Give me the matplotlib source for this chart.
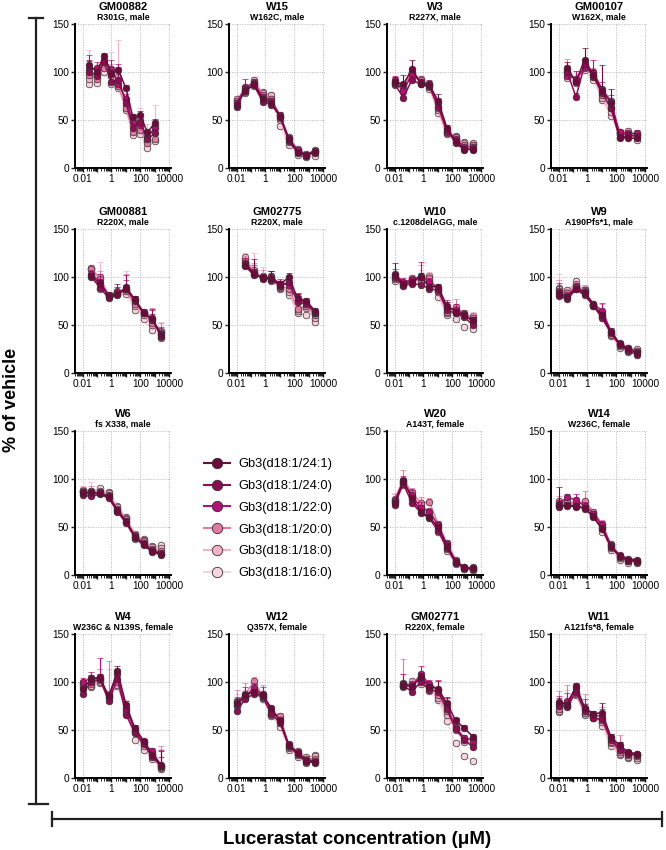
import numpy as np
import matplotlib
matplotlib.use("Agg")
import matplotlib.pyplot as plt
from matplotlib.lines import Line2D
from matplotlib.ticker import LogLocator, FixedLocator, NullFormatter

plt.rcParams["font.family"] = ["Liberation Sans", "DejaVu Sans"]

series = ["Gb3(d18:1/24:1)", "Gb3(d18:1/24:0)", "Gb3(d18:1/22:0)",
          "Gb3(d18:1/20:0)", "Gb3(d18:1/18:0)", "Gb3(d18:1/16:0)"]
colors = ["#6E0A3B", "#8C0E52", "#B5107A", "#E07AA0", "#F2B3C8", "#F7D5E0"]

# concentrations (uM)
conc_10 = [0.01, 0.04, 0.16, 0.64, 2.56, 10.24, 41, 164, 655, 2621]
conc_9 = [0.04, 0.16, 0.64, 2.56, 10.24, 41, 164, 655, 2621]
conc_half = [0.03, 0.1, 0.3, 1, 3, 10, 30, 100, 300, 1000]

# rows: 24:1, 24:0, 22:0, 20:0, 18:0, 16:0
gm00882_y = [[107, 100, 117, 98, 102, 83, 53, 55, 37, 47],
             [100, 96, 110, 90, 92, 68, 42, 48, 30, 36],
             [103, 104, 112, 103, 88, 72, 48, 45, 32, 42],
             [97, 93, 104, 100, 85, 63, 38, 40, 26, 30],
             [93, 98, 108, 96, 95, 66, 45, 50, 28, 44],
             [88, 89, 100, 88, 83, 60, 34, 35, 21, 28]]
gm00882_e = [[4, 3, 3, 4, 3, 3, 3, 4, 3, 4],
             [12, 5, 4, 6, 10, 4, 4, 5, 4, 5],
             [15, 6, 6, 10, 20, 5, 5, 8, 6, 8],
             [8, 4, 5, 8, 14, 4, 4, 10, 10, 12],
             [30, 8, 10, 25, 38, 6, 5, 12, 18, 22],
             [10, 5, 6, 12, 10, 4, 4, 6, 8, 10]]

w15_y = [[66, 80, 87, 72, 68, 53, 30, 17, 14, 17],
         [64, 82, 86, 69, 66, 54, 28, 16, 13, 16],
         [68, 84, 89, 74, 70, 55, 31, 19, 14, 18],
         [70, 79, 90, 76, 72, 52, 32, 18, 13, 19],
         [72, 81, 92, 78, 76, 50, 27, 20, 15, 18],
         [71, 78, 85, 79, 74, 44, 24, 14, 11, 13]]
w15_e = [[2, 3, 3, 2, 2, 2, 2, 2, 1, 2],
         [2, 3, 3, 2, 2, 2, 2, 2, 1, 2],
         [3, 9, 4, 3, 3, 3, 2, 2, 2, 2],
         [3, 4, 3, 3, 3, 3, 2, 2, 2, 2],
         [3, 4, 3, 3, 3, 3, 2, 2, 2, 2],
         [2, 3, 3, 2, 2, 2, 2, 2, 1, 2]]

w3_y = [[90, 87, 103, 88, 86, 70, 42, 28, 20, 19],
        [88, 73, 92, 87, 85, 64, 40, 26, 19, 20],
        [92, 80, 98, 90, 87, 68, 38, 30, 22, 22],
        [86, 84, 100, 92, 84, 62, 36, 32, 24, 24],
        [90, 82, 96, 93, 87, 60, 38, 33, 26, 26],
        [89, 85, 99, 91, 82, 57, 35, 30, 27, 25]]
w3_e = [[5, 10, 10, 4, 6, 7, 3, 2, 2, 2],
        [3, 4, 4, 3, 3, 4, 3, 2, 2, 2],
        [4, 8, 6, 3, 4, 5, 3, 2, 2, 2],
        [3, 5, 4, 3, 3, 4, 4, 2, 2, 3],
        [3, 4, 4, 3, 3, 4, 3, 2, 2, 2],
        [3, 3, 3, 3, 3, 3, 2, 2, 2, 2]]

gm00107_y = [[104, 90, 113, 97, 80, 68, 32, 31, 31],
             [100, 74, 108, 95, 78, 63, 31, 34, 33],
             [96, 93, 105, 100, 82, 70, 37, 36, 36],
             [102, 91, 104, 98, 76, 62, 35, 35, 35],
             [99, 92, 106, 96, 73, 58, 38, 39, 34],
             [94, 89, 102, 92, 71, 54, 36, 33, 29]]
gm00107_e = [[6, 5, 12, 5, 27, 14, 3, 3, 3],
             [4, 4, 4, 4, 5, 5, 3, 3, 3],
             [10, 8, 6, 12, 8, 6, 3, 3, 4],
             [12, 10, 6, 6, 6, 6, 3, 3, 4],
             [8, 6, 5, 5, 5, 5, 3, 3, 3],
             [5, 4, 4, 4, 4, 4, 3, 3, 3]]

gm00881_y = [[101, 93, 80, 82, 88, 77, 63, 57, 40],
             [100, 89, 78, 81, 90, 76, 62, 56, 38],
             [103, 95, 81, 84, 87, 75, 64, 55, 42],
             [108, 98, 80, 83, 85, 72, 62, 52, 44],
             [109, 100, 81, 85, 86, 70, 60, 50, 43],
             [108, 88, 79, 82, 82, 66, 56, 45, 36]]
gm00881_e = [[3, 4, 2, 3, 4, 3, 2, 4, 3],
             [4, 6, 3, 12, 12, 4, 3, 10, 4],
             [4, 8, 3, 6, 10, 4, 3, 12, 6],
             [3, 8, 3, 5, 18, 5, 3, 16, 8],
             [3, 16, 3, 5, 20, 5, 3, 18, 10],
             [3, 5, 2, 3, 5, 3, 2, 5, 4]]

gm02775_y = [[113, 103, 99, 98, 92, 100, 78, 75, 65],
             [111, 102, 100, 97, 91, 95, 74, 72, 63],
             [115, 104, 98, 100, 93, 92, 76, 74, 62],
             [117, 105, 99, 101, 90, 88, 67, 70, 60],
             [121, 107, 100, 99, 89, 84, 65, 68, 57],
             [119, 106, 101, 96, 88, 81, 63, 60, 53]]
gm02775_e = [[4, 16, 3, 8, 4, 4, 5, 3, 3],
             [4, 6, 3, 5, 4, 4, 8, 3, 3],
             [5, 8, 4, 6, 5, 5, 6, 3, 3],
             [5, 10, 8, 5, 6, 6, 5, 4, 3],
             [4, 18, 10, 5, 8, 6, 5, 4, 3],
             [3, 4, 3, 3, 4, 4, 4, 3, 3]]

w10_y = [[102, 93, 95, 100, 90, 90, 70, 64, 60, 55],
         [100, 91, 93, 92, 88, 86, 66, 62, 58, 50],
         [103, 95, 97, 101, 95, 88, 68, 66, 61, 53],
         [99, 92, 98, 96, 99, 85, 64, 69, 62, 57],
         [98, 94, 96, 99, 101, 84, 62, 63, 60, 59],
         [96, 93, 99, 94, 97, 79, 60, 56, 48, 46]]
w10_e = [[13, 3, 3, 4, 3, 3, 4, 3, 3, 3],
         [4, 3, 3, 5, 3, 3, 5, 4, 3, 3],
         [5, 4, 3, 15, 4, 4, 8, 6, 3, 5],
         [4, 4, 3, 17, 5, 4, 10, 8, 4, 6],
         [4, 3, 3, 8, 4, 3, 6, 6, 3, 5],
         [3, 3, 3, 3, 3, 3, 3, 3, 3, 3]]

w9_y = [[82, 79, 88, 83, 71, 60, 43, 30, 25, 21],
        [80, 77, 87, 81, 70, 57, 42, 29, 23, 19],
        [84, 80, 90, 84, 72, 65, 44, 31, 26, 22],
        [85, 83, 91, 85, 71, 62, 40, 30, 24, 23],
        [88, 86, 93, 86, 72, 59, 41, 28, 26, 25],
        [89, 84, 96, 87, 70, 58, 39, 26, 22, 24]]
w9_e = [[4, 3, 3, 3, 2, 3, 2, 2, 2, 2],
        [4, 3, 3, 3, 2, 3, 2, 2, 2, 2],
        [10, 4, 4, 6, 2, 8, 3, 2, 2, 2],
        [12, 4, 4, 7, 2, 10, 3, 2, 2, 2],
        [15, 3, 3, 5, 2, 5, 2, 2, 2, 2],
        [4, 3, 3, 3, 2, 3, 2, 2, 2, 2]]

w6_y = [[85, 86, 85, 82, 68, 56, 40, 32, 25, 22],
        [83, 82, 84, 80, 66, 54, 39, 31, 24, 21],
        [86, 84, 86, 81, 67, 55, 41, 33, 26, 23],
        [88, 87, 85, 83, 69, 58, 42, 35, 27, 25],
        [89, 88, 88, 85, 71, 59, 43, 36, 29, 28],
        [87, 86, 91, 86, 72, 60, 38, 37, 30, 31]]
w6_e = [[3, 3, 2, 2, 2, 2, 2, 2, 2, 2],
        [3, 3, 2, 2, 2, 2, 2, 2, 2, 2],
        [4, 5, 3, 2, 2, 3, 2, 2, 2, 2],
        [4, 6, 3, 3, 3, 3, 4, 2, 2, 2],
        [4, 9, 3, 3, 3, 3, 3, 2, 2, 2],
        [3, 3, 2, 2, 2, 2, 2, 2, 2, 2]]

w20_y = [[75, 98, 80, 66, 60, 50, 30, 14, 7, 7],
         [73, 95, 75, 65, 59, 46, 28, 13, 7, 6],
         [77, 97, 83, 70, 66, 52, 32, 15, 8, 7],
         [79, 99, 86, 75, 76, 53, 33, 16, 8, 8],
         [78, 96, 82, 72, 67, 48, 27, 12, 6, 5],
         [76, 94, 79, 68, 62, 45, 25, 11, 6, 5]]
w20_e = [[3, 3, 3, 3, 2, 3, 2, 2, 1, 1],
         [3, 3, 3, 3, 2, 3, 2, 2, 1, 1],
         [4, 6, 6, 6, 3, 3, 3, 2, 1, 1],
         [5, 10, 5, 6, 4, 3, 3, 2, 1, 1],
         [7, 5, 4, 8, 3, 3, 3, 2, 1, 1],
         [3, 3, 3, 3, 2, 3, 2, 2, 1, 1]]

w14_y = [[73, 72, 71, 70, 60, 48, 29, 20, 16, 15],
         [71, 73, 72, 69, 61, 49, 30, 19, 15, 14],
         [74, 81, 78, 72, 64, 52, 31, 21, 17, 16],
         [77, 76, 74, 77, 66, 53, 32, 20, 16, 15],
         [75, 77, 75, 74, 65, 50, 28, 18, 15, 14],
         [72, 75, 73, 71, 63, 45, 26, 16, 13, 13]]
w14_e = [[19, 3, 3, 3, 2, 3, 2, 2, 2, 2],
         [3, 3, 3, 3, 2, 3, 2, 2, 2, 2],
         [4, 3, 6, 4, 3, 4, 2, 2, 2, 2],
         [5, 4, 7, 10, 3, 4, 2, 2, 2, 2],
         [4, 3, 4, 5, 3, 3, 2, 2, 2, 2],
         [3, 3, 3, 3, 2, 3, 2, 2, 2, 2]]

w4_y = [[93, 103, 104, 85, 111, 76, 52, 39, 24, 14],
        [88, 100, 103, 80, 103, 66, 47, 35, 22, 12],
        [100, 104, 105, 84, 108, 72, 50, 36, 28, 13],
        [95, 98, 102, 86, 100, 70, 48, 37, 25, 11],
        [97, 96, 100, 88, 97, 73, 49, 33, 26, 10],
        [99, 95, 99, 83, 96, 68, 40, 29, 20, 9]]
w4_e = [[3, 4, 4, 4, 6, 4, 3, 2, 2, 14],
        [3, 4, 4, 4, 5, 4, 3, 2, 2, 10],
        [4, 6, 20, 6, 6, 6, 5, 3, 3, 16],
        [4, 8, 12, 36, 8, 10, 6, 4, 4, 22],
        [4, 6, 8, 26, 6, 8, 5, 3, 3, 20],
        [3, 4, 4, 4, 4, 4, 3, 2, 2, 4]]

w12_y = [[78, 86, 90, 86, 73, 59, 34, 26, 18, 17],
         [70, 82, 88, 84, 67, 57, 33, 25, 17, 16],
         [76, 85, 94, 87, 70, 60, 35, 27, 19, 18],
         [80, 87, 101, 85, 68, 65, 32, 24, 20, 20],
         [79, 84, 96, 83, 66, 62, 31, 28, 22, 23],
         [75, 83, 92, 82, 65, 53, 29, 22, 16, 24]]
w12_e = [[4, 4, 3, 4, 2, 3, 2, 2, 2, 2],
         [4, 4, 3, 4, 2, 3, 2, 2, 2, 2],
         [8, 10, 5, 8, 3, 4, 3, 2, 2, 2],
         [12, 12, 4, 12, 3, 3, 3, 2, 2, 2],
         [8, 8, 4, 6, 3, 3, 3, 2, 2, 2],
         [4, 4, 3, 4, 2, 3, 2, 2, 2, 2]]

gm02771_y = [[97, 95, 105, 95, 93, 78, 60, 52, 43],
             [96, 90, 100, 92, 90, 72, 51, 40, 32],
             [98, 96, 108, 98, 92, 75, 53, 42, 40],
             [99, 97, 104, 97, 86, 70, 52, 41, 39],
             [96, 98, 102, 94, 83, 66, 50, 38, 36],
             [95, 101, 98, 91, 81, 59, 36, 23, 18]]
gm02771_e = [[4, 4, 4, 3, 8, 6, 3, 3, 3],
             [3, 3, 3, 3, 4, 4, 3, 3, 3],
             [10, 5, 9, 4, 10, 8, 4, 3, 3],
             [25, 6, 6, 4, 8, 8, 4, 3, 3],
             [12, 4, 5, 3, 6, 6, 3, 3, 3],
             [3, 3, 3, 3, 3, 3, 3, 2, 2]]

w11_y = [[79, 76, 96, 73, 67, 68, 43, 34, 27, 25],
         [75, 74, 90, 70, 62, 61, 40, 29, 25, 24],
         [77, 79, 94, 72, 66, 64, 42, 31, 26, 25],
         [72, 77, 89, 68, 64, 60, 38, 27, 24, 23],
         [70, 80, 88, 66, 63, 58, 36, 25, 22, 21],
         [69, 75, 86, 67, 62, 54, 33, 24, 21, 19]]
w11_e = [[4, 3, 3, 4, 3, 10, 3, 3, 2, 2],
         [4, 3, 3, 4, 3, 4, 3, 3, 2, 2],
         [8, 10, 4, 10, 4, 8, 4, 6, 3, 2],
         [19, 20, 8, 19, 4, 14, 5, 18, 4, 3],
         [10, 12, 5, 12, 4, 8, 4, 10, 3, 2],
         [4, 3, 3, 4, 3, 4, 3, 3, 2, 2]]

titles = ["GM00882", "W15", "W3", "GM00107",
          "GM00881", "GM02775", "W10", "W9",
          "W6", None, "W20", "W14",
          "W4", "W12", "GM02771", "W11"]
subtitles = ["R301G, male", "W162C, male", "R227X, male", "W162X, male",
             "R220X, male", "R220X, male", "c.1208delAGG, male", "A190Pfs*1, male",
             "fs X338, male", None, "A143T, female", "W236C, female",
             "W236C & N139S, female", "Q357X, female", "R220X, female", "A121fs*8, female"]
panel_x = [conc_half, conc_10, conc_10, conc_9,
           conc_9, conc_9, conc_10, conc_10,
           conc_10, None, conc_10, conc_10,
           conc_10, conc_10, conc_9, conc_10]
panel_y = [gm00882_y, w15_y, w3_y, gm00107_y,
           gm00881_y, gm02775_y, w10_y, w9_y,
           w6_y, None, w20_y, w14_y,
           w4_y, w12_y, gm02771_y, w11_y]
panel_e = [gm00882_e, w15_e, w3_e, gm00107_e,
           gm00881_e, gm02775_e, w10_e, w9_e,
           w6_e, None, w20_e, w14_e,
           w4_e, w12_e, gm02771_e, w11_e]

W, H = 666, 850
fig = plt.figure(figsize=(W / 100, H / 100), dpi=100)

row_top = [24, 229, 431, 634]
col_left = [75, 229, 387, 551]
ax_w, ax_h = 96, 144

for i in range(16):
    r, c = divmod(i, 4)
    if titles[i] is None:
        continue
    ax = fig.add_axes([col_left[c] / W, 1 - (row_top[r] + ax_h) / H, ax_w / W, ax_h / H])
    x = panel_x[i]
    for s in range(5, -1, -1):
        y = np.array(panel_y[i][s])
        e = np.array(panel_e[i][s])
        ax.errorbar(x, y, yerr=[np.zeros_like(e), e], color=colors[s], lw=1.1,
                    elinewidth=0.8, capsize=2, capthick=0.8, marker="o", ms=4.8,
                    mfc=colors[s], mec="#3a2a30", mew=0.5, zorder=3 + (5 - s))
    ax.set_xscale("log")
    ax.set_xlim(0.003, 13000)
    ax.set_ylim(0, 150)
    ax.set_yticks([0, 50, 100, 150])
    ax.xaxis.set_major_locator(FixedLocator([1e-2, 1e-1, 1, 10, 100, 1e3, 1e4]))
    ax.set_xticklabels(["0.01", "", "1", "", "100", "", "10000"])
    ax.xaxis.set_minor_locator(LogLocator(base=10, subs=np.arange(2, 10), numticks=20))
    ax.xaxis.set_minor_formatter(NullFormatter())
    ax.tick_params(axis="both", labelsize=7.3, width=1, length=3, pad=1.5, color="#222222")
    ax.tick_params(axis="x", which="minor", length=1.8, width=0.6)
    for side in ["top", "right"]:
        ax.spines[side].set_visible(False)
    for side in ["left", "bottom"]:
        ax.spines[side].set_linewidth(1.4)
    for gx in [1e-2, 1, 100, 1e4]:
        ax.axvline(gx, color="#bbbbbb", lw=0.6, ls=(0, (1.5, 1.5)), zorder=0)
    for gy in [50, 100, 150]:
        ax.axhline(gy, color="#bbbbbb", lw=0.6, ls=(0, (1.5, 1.5)), zorder=0)
    ax.text(0.5, 1 + 17 / ax_h, titles[i], transform=ax.transAxes, ha="center",
            va="center", fontsize=8, fontweight="bold")
    ax.text(0.5, 1 + 7 / ax_h, subtitles[i], transform=ax.transAxes, ha="center",
            va="center", fontsize=6.3, fontweight="bold")

# legend in the empty slot
handles = [Line2D([0], [0], color=colors[s], lw=1.5, marker="o", ms=7.5,
                  mfc=colors[s], mec="#3a2a30", mew=0.6) for s in range(6)]
fig.legend(handles, series, loc="upper left", bbox_to_anchor=(198 / W, 1 - 452 / H),
           frameon=False, fontsize=9.3, handlelength=2.0, labelspacing=0.75,
           handletextpad=0.6, borderpad=0)

# brackets and axis titles
over = fig.add_axes([0, 0, 1, 1], facecolor="none")
over.set_xlim(0, W)
over.set_ylim(H, 0)
over.axis("off")
over.plot([36, 36], [18, 804], color="#222222", lw=1.6)
over.plot([29, 43], [18, 18], color="#222222", lw=1.6)
over.plot([29, 48], [804, 804], color="#222222", lw=1.6)
over.plot([52, 662], [819, 819], color="#222222", lw=1.6)
over.plot([52, 52], [812, 826], color="#222222", lw=1.6)
over.plot([662, 662], [812, 826], color="#222222", lw=1.6)
over.text(12, 400, "% of vehicle", rotation=90, ha="center", va="center",
          fontsize=13, fontweight="bold")
over.text(357, 839, "Lucerastat concentration (\u03bcM)", ha="center", va="center",
          fontsize=13.5, fontweight="bold")

fig.savefig("out.png", dpi=100)
